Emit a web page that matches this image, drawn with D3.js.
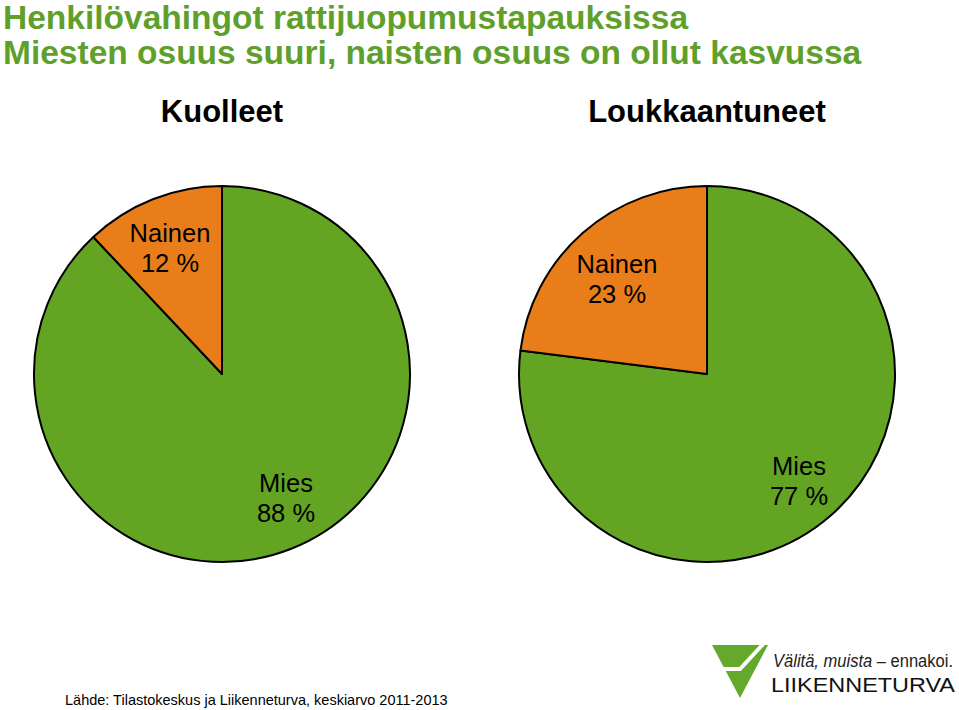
<!DOCTYPE html>
<html><head><meta charset="utf-8">
<script src="https://cdn.jsdelivr.net/npm/d3@7"></script>
<style>body{margin:0;background:#fff;} svg{display:block;font-family:"Liberation Sans",Arial,sans-serif;}</style>
</head><body>
<script>
const titles = ["Henkilövahingot rattijuopumustapauksissa", "Miesten osuus suuri, naisten osuus on ollut kasvussa"];
const pieTitles = ["Kuolleet", "Loukkaantuneet"];
const categories = ["Mies", "Nainen"];
const kuolleet = [88, 12];
const loukkaantuneet = [77, 23];
const source = "Lähde: Tilastokeskus ja Liikenneturva, keskiarvo 2011-2013";

const W = 959, H = 710;
const svg = d3.select("body").append("svg").attr("width", W).attr("height", H);
const green = "#63a522", orange = "#e97d19", titleGreen = "#5f9f2b";

svg.selectAll("text.title").data(titles).join("text")
  .attr("x", 3).attr("y", (d,i) => 29 + i*35)
  .attr("font-size", 33.5).attr("font-weight", "bold").attr("fill", titleGreen).text(d => d);

const color = d3.scaleOrdinal().domain(categories).range([green, orange]);
const pie = d3.pie().sort(null).value(d => d.v);
const arc = d3.arc().innerRadius(0).outerRadius(188);

const pies = [
  {title: pieTitles[0], values: kuolleet, cx: 222, cy: 374,
   labels: {Mies: [286, 492], Nainen: [170, 242]}},
  {title: pieTitles[1], values: loukkaantuneet, cx: 707, cy: 374,
   labels: {Mies: [799, 475], Nainen: [617, 273]}}
];

pies.forEach(p => {
  svg.append("text").attr("x", p.cx).attr("y", 122).attr("text-anchor", "middle")
    .attr("font-size", 31).attr("font-weight", "bold").attr("fill", "#000").text(p.title);
  const g = svg.append("g").attr("transform", `translate(${p.cx},${p.cy})`);
  const data = categories.map((c, i) => ({c, v: p.values[i]}));
  g.selectAll("path").data(pie(data)).join("path")
    .attr("d", arc).attr("fill", d => color(d.data.c))
    .attr("stroke", "#000").attr("stroke-width", 2).attr("stroke-linejoin", "round");
  data.forEach(d => {
    const [x, y] = p.labels[d.c];
    const t = svg.append("text").attr("text-anchor", "middle").attr("font-size", 25.5).attr("fill", "#000");
    t.append("tspan").attr("x", x).attr("y", y).text(d.c);
    t.append("tspan").attr("x", x).attr("y", y + 30).text(d.v + " %");
  });
});

svg.append("text").attr("x", 65).attr("y", 705).attr("font-size", 14.5).attr("fill", "#000").text(source);

// Logo
const logo = svg.append("g");
logo.append("path").attr("d", "M712,645 L768,645 L740,698 Z").attr("fill", "#64a82c");
logo.append("path").attr("d", "M766,641 L740,669 L718,669").attr("stroke", "#fff").attr("stroke-width", 4).attr("fill", "none");
const lt = logo.append("text").attr("x", 773).attr("y", 667).attr("font-size", 17.5)
  .attr("fill", "#222").attr("textLength", 180).attr("lengthAdjust", "spacingAndGlyphs");
lt.append("tspan").attr("font-style", "italic").text("Välitä, muista");
lt.append("tspan").text(" – ennakoi.");
logo.append("text").attr("x", 771).attr("y", 692).attr("font-size", 20)
  .attr("fill", "#111").attr("textLength", 184).attr("lengthAdjust", "spacingAndGlyphs").text("LIIKENNETURVA");
</script>
</body></html>
